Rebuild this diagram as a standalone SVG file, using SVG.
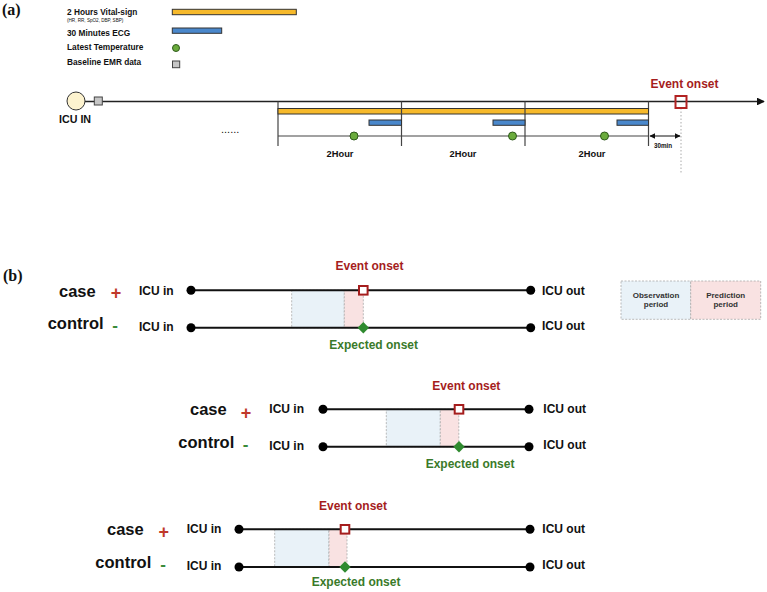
<svg xmlns="http://www.w3.org/2000/svg" width="767" height="592" viewBox="0 0 767 592">
<defs>
<style>
text{font-family:"Liberation Sans",Arial,sans-serif;font-weight:bold;fill:#111}
.lbl{font-family:"Liberation Serif","Times New Roman",serif;font-size:16px}
.leg{font-size:8.3px}
.tiny{font-size:4.6px;font-weight:normal}
.hr{font-size:9.3px;text-anchor:middle}
.big{font-size:16.5px}
.icu{font-size:12px}
.ev{font-size:12px;fill:#a51d1d}
.ex{font-size:12px;fill:#3a7a2a}
.plus{font-size:18px;fill:#c0392b;text-anchor:middle}
.minus{font-size:17px;fill:#3a8a3a;text-anchor:middle}
.bx{font-size:8px;fill:#333;text-anchor:middle}
.tl{stroke:#111;stroke-width:2;fill:none}
.dot{fill:#000}
.obs{fill:#e9f2f8;stroke:#aaa;stroke-width:0.8;stroke-dasharray:2,1.5}
.pred{fill:#f9e2e2;stroke:#aaa;stroke-width:0.8;stroke-dasharray:2,1.5}
.evm{fill:#fff;stroke:#a51d1d;stroke-width:2}
.exm{fill:#2f8a2f}
.orange{fill:#f6b92b;stroke:#333;stroke-width:1}
.blue{fill:#4a88cc;stroke:#333;stroke-width:1}
.green{fill:#6aab3c;stroke:#2f5a1c;stroke-width:1}
.grey{fill:#c6c6c6;stroke:#444;stroke-width:1}
.seg{stroke:#444;stroke-width:1.2;fill:none}
</style>
<marker id="ah" viewBox="0 0 10 10" refX="9" refY="5" markerWidth="6" markerHeight="6" orient="auto-start-reverse"><path d="M0,0 L10,5 L0,10 z" fill="#111"/></marker>
</defs>
<rect width="767" height="592" fill="#fff"/>

<!-- Part (a) -->
<text class="lbl" x="2" y="14.5">(a)</text>
<g id="legend">
<text class="leg" x="67" y="14.5">2 Hours Vital-sign</text>
<text class="tiny" x="67" y="21.5">(HR, RR, SpO2, DBP, SBP)</text>
<text class="leg" x="67" y="36">30 Minutes ECG</text>
<text class="leg" x="67" y="50">Latest Temperature</text>
<text class="leg" x="67" y="64.5">Baseline EMR data</text>
<rect class="orange" x="172.3" y="9.3" width="124" height="5.4"/>
<rect class="blue" x="172.3" y="28" width="49.4" height="5.3"/>
<circle class="green" cx="176" cy="48" r="3.5"/>
<rect class="grey" x="172.5" y="61" width="7.2" height="6.7"/>
</g>

<g id="connectors-a">
<line x1="85" y1="101.5" x2="764" y2="101.5" stroke="#222" stroke-width="1.3" marker-end="url(#ah)"/>
<line x1="681" y1="108" x2="681" y2="174" stroke="#aaa" stroke-width="1" stroke-dasharray="1.5,2"/>
<line class="seg" x1="278" y1="101.5" x2="278" y2="146"/>
<line class="seg" x1="401.5" y1="101.5" x2="401.5" y2="146"/>
<line class="seg" x1="525" y1="101.5" x2="525" y2="146"/>
<line class="seg" x1="648.5" y1="101.5" x2="648.5" y2="146"/>
<line class="seg" x1="278" y1="136" x2="648.5" y2="136"/>
<line x1="650" y1="136" x2="680" y2="136" stroke="#111" stroke-width="1" marker-start="url(#ah)" marker-end="url(#ah)"/>
</g>

<g id="icu-in">
<circle cx="76" cy="101" r="9" fill="#fdf3cf" stroke="#333" stroke-width="1"/>
<rect class="grey" x="94.3" y="97" width="8" height="8"/>
<text x="59" y="123" style="font-size:10.7px">ICU IN</text>
<text x="221" y="132.5" style="font-size:11px;font-weight:normal">......</text>
</g>

<g id="windows">
<rect class="orange" x="278" y="108.5" width="370.5" height="5.5"/>
<line class="seg" x1="401.5" y1="108" x2="401.5" y2="114.5"/>
<line class="seg" x1="525" y1="108" x2="525" y2="114.5"/>
<rect class="blue" x="369" y="120" width="32.5" height="5.3"/>
<rect class="blue" x="493" y="120" width="32" height="5.3"/>
<rect class="blue" x="617" y="120" width="31.5" height="5.3"/>
<circle class="green" cx="354" cy="136" r="4"/>
<circle class="green" cx="512.5" cy="136" r="4"/>
<circle class="green" cx="604.5" cy="136" r="4"/>
<text class="hr" x="340" y="156.5">2Hour</text>
<text class="hr" x="463" y="156.5">2Hour</text>
<text class="hr" x="592" y="156.5">2Hour</text>
<text x="654" y="148" style="font-size:6.3px">30min</text>
</g>

<g id="event-a">
<rect x="675.5" y="96" width="11" height="12" fill="none" stroke="#b22222" stroke-width="2"/>
<text x="650.5" y="87.5" style="font-size:12px;fill:#a51d1d">Event onset</text>
</g>

<!-- Part (b) -->
<text class="lbl" x="3" y="280.5">(b)</text>

<g id="legend-b">
<rect class="obs" x="621" y="281" width="69.7" height="38.3"/>
<rect class="pred" x="690.7" y="281" width="70" height="38.3"/>
<text class="bx" x="656" y="297.5">Observation</text>
<text class="bx" x="656" y="307">period</text>
<text class="bx" x="725.7" y="297.5">Prediction</text>
<text class="bx" x="725.7" y="307">period</text>
</g>

<g id="group1">
<rect class="obs" x="291.7" y="290.3" width="52.6" height="37.4"/>
<rect class="pred" x="344.3" y="290.3" width="19" height="37.4"/>
<line class="tl" x1="191" y1="290.3" x2="530.7" y2="290.3"/>
<line class="tl" x1="191" y1="327.7" x2="530.7" y2="327.7"/>
<circle class="dot" cx="191" cy="290.3" r="4.5"/>
<circle class="dot" cx="530.7" cy="290.3" r="4.5"/>
<circle class="dot" cx="191" cy="327.7" r="4.5"/>
<circle class="dot" cx="530.7" cy="327.7" r="4.5"/>
<rect class="evm" x="359" y="286" width="8.6" height="8.6"/>
<path class="exm" d="M363.3,322 L369,327.7 L363.3,333.4 L357.6,327.7 z"/>
<text class="big" x="59" y="296.5">case</text>
<text class="big" x="47.7" y="329">control</text>
<text class="plus" x="116" y="299">+</text>
<text class="minus" x="115" y="330.5">-</text>
<text class="icu" x="139" y="294.5">ICU in</text>
<text class="icu" x="139" y="330.5">ICU in</text>
<text class="icu" x="542" y="295">ICU out</text>
<text class="icu" x="542" y="330.3">ICU out</text>
<text class="ev" x="335.5" y="270">Event onset</text>
<text class="ex" x="329.3" y="348.5">Expected onset</text>
</g>

<g id="group2">
<rect class="obs" x="386.3" y="409.3" width="54" height="37.4"/>
<rect class="pred" x="440.3" y="409.3" width="18.5" height="37.4"/>
<line class="tl" x1="323" y1="409.3" x2="529" y2="409.3"/>
<line class="tl" x1="323" y1="446.8" x2="529" y2="446.8"/>
<circle class="dot" cx="323" cy="409.3" r="4.5"/>
<circle class="dot" cx="529" cy="409.3" r="4.5"/>
<circle class="dot" cx="323" cy="446.8" r="4.5"/>
<circle class="dot" cx="529" cy="446.8" r="4.5"/>
<rect class="evm" x="454.7" y="405" width="8.6" height="8.6"/>
<path class="exm" d="M459,441.1 L464.7,446.8 L459,452.5 L453.3,446.8 z"/>
<text class="big" x="190" y="415">case</text>
<text class="big" x="178.3" y="447.5">control</text>
<text class="plus" x="246" y="418.5">+</text>
<text class="minus" x="245.5" y="450">-</text>
<text class="icu" x="269.3" y="412.8">ICU in</text>
<text class="icu" x="269.3" y="450">ICU in</text>
<text class="icu" x="543.3" y="413.3">ICU out</text>
<text class="icu" x="543.3" y="449.3">ICU out</text>
<text class="ev" x="432.3" y="389.5">Event onset</text>
<text class="ex" x="425.7" y="467.5">Expected onset</text>
</g>

<g id="group3">
<rect class="obs" x="274.7" y="529.3" width="54.3" height="37.7"/>
<rect class="pred" x="329" y="529.3" width="18" height="37.7"/>
<line class="tl" x1="239" y1="529.3" x2="530" y2="529.3"/>
<line class="tl" x1="239" y1="567" x2="530" y2="567"/>
<circle class="dot" cx="239" cy="529.3" r="4.5"/>
<circle class="dot" cx="530" cy="529.3" r="4.5"/>
<circle class="dot" cx="239" cy="567" r="4.5"/>
<circle class="dot" cx="530" cy="567" r="4.5"/>
<rect class="evm" x="340.7" y="525" width="8.6" height="8.6"/>
<path class="exm" d="M345,561.3 L350.7,567 L345,572.7 L339.3,567 z"/>
<text class="big" x="107" y="535">case</text>
<text class="big" x="95.3" y="567.5">control</text>
<text class="plus" x="163.7" y="538">+</text>
<text class="minus" x="163" y="569.7">-</text>
<text class="icu" x="186.7" y="532.7">ICU in</text>
<text class="icu" x="186.7" y="570">ICU in</text>
<text class="icu" x="542.3" y="532.7">ICU out</text>
<text class="icu" x="542.3" y="569.3">ICU out</text>
<text class="ev" x="319" y="509.5">Event onset</text>
<text class="ex" x="311.7" y="586">Expected onset</text>
</g>
</svg>
